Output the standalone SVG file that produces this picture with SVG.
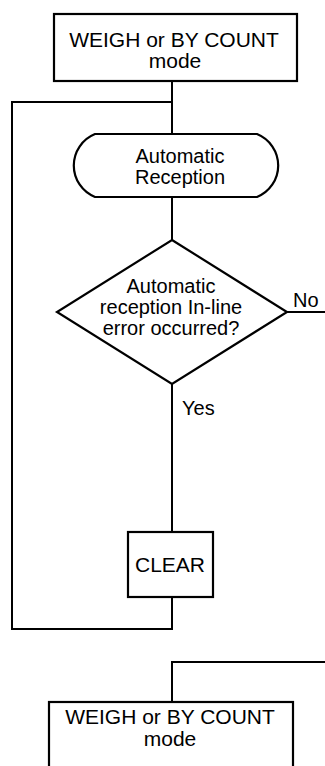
<svg xmlns="http://www.w3.org/2000/svg" width="325" height="766" viewBox="0 0 325 766">
<style>
.shape{fill:#fff;stroke:#000;stroke-width:2.2;stroke-linejoin:miter}
.line{fill:none;stroke:#000;stroke-width:2}
text{font-family:"Liberation Sans",Arial,sans-serif;fill:#000;text-anchor:middle}
.big{font-size:21px}
.mid{font-size:20px}
</style>
<rect width="325" height="766" fill="#fff"/>
<g id="connectors">
<path class="line" d="M172,81 V134"/>
<path class="line" d="M172,197 V240"/>
<path class="line" d="M172,384 V532"/>
<path class="line" d="M172,597 V629 H12 V102 H172"/>
<path class="line" d="M287,312 H325"/>
<path class="line" d="M172,702 V662 H325"/>
<text class="mid" x="293" y="307" style="text-anchor:start">No</text>
<text class="mid" x="182" y="415" style="text-anchor:start">Yes</text>
</g>
<g id="mode-top">
<rect class="shape" x="54" y="14" width="243" height="67"/>
<text class="big" x="174" y="47">WEIGH or BY COUNT</text>
<text class="big" x="175" y="68">mode</text>
</g>
<g id="auto-reception">
<path class="shape" d="M95,134 H257 A34,34 0 0 1 257,197 H95 A34,34 0 0 1 95,134 Z"/>
<text class="mid" x="180" y="163">Automatic</text>
<text class="mid" x="180" y="184">Reception</text>
</g>
<g id="decision">
<path class="shape" d="M172,240 L287,312 L172,384 L57,312 Z"/>
<text class="mid" x="171" y="293">Automatic</text>
<text class="mid" x="171" y="314">reception In-line</text>
<text class="mid" x="171" y="335">error occurred?</text>
</g>
<g id="clear">
<rect class="shape" x="128" y="532" width="85" height="65"/>
<text class="big" x="170" y="572">CLEAR</text>
</g>
<g id="mode-bottom">
<rect class="shape" x="49" y="702" width="244" height="80"/>
<text class="big" x="170" y="724">WEIGH or BY COUNT</text>
<text class="big" x="170" y="746">mode</text>
</g>
</svg>
